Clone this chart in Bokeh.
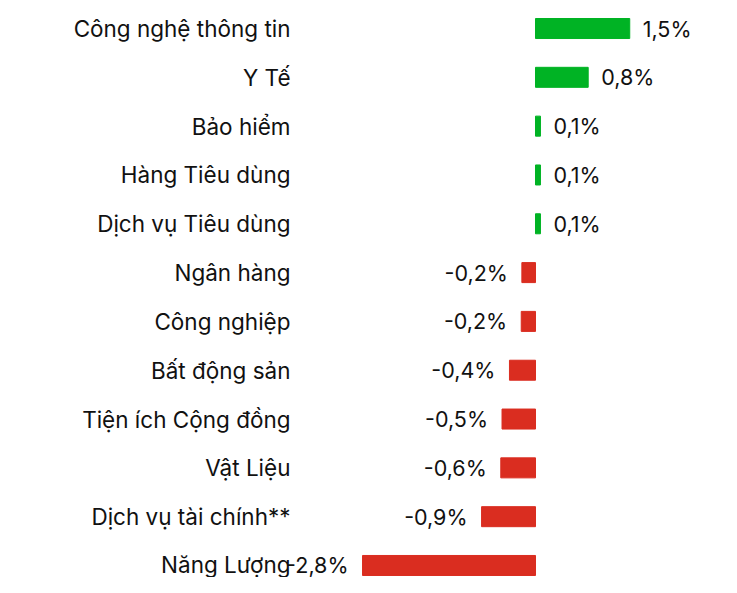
from bokeh.plotting import figure
from bokeh.models import ColumnDataSource, Range1d, FixedTicker, LabelSet
from bokeh.core.properties import value
from bokeh.embed import file_html
from bokeh.resources import INLINE

categories = ["Công nghệ thông tin", "Y Tế", "Bảo hiểm", "Hàng Tiêu dùng",
              "Dịch vụ Tiêu dùng", "Ngân hàng", "Công nghiệp", "Bất động sản",
              "Tiện ích Cộng đồng", "Vật Liệu", "Dịch vụ tài chính**", "Năng Lượng"]
values = [1.52, 0.85, 0.08, 0.08, 0.08, -0.22, -0.23, -0.42, -0.54, -0.56, -0.87, -2.79]
value_labels = ["1,5%", "0,8%", "0,1%", "0,1%", "0,1%", "-0,2%", "-0,2%",
                "-0,4%", "-0,5%", "-0,6%", "-0,9%", "-2,8%"]

GREEN = "#00B324"
RED = "#DA2D20"
FONT = "Inter"

idx = list(range(len(categories)))
src = ColumnDataSource(dict(
    y=idx, v=values,
    color=[GREEN if v >= 0 else RED for v in values],
))
pos = [i for i in idx if values[i] >= 0]
neg = [i for i in idx if values[i] < 0]
src_pos = ColumnDataSource(dict(y=pos, v=[values[i] for i in pos], lab=[value_labels[i] for i in pos]))
src_neg = ColumnDataSource(dict(y=neg, v=[values[i] for i in neg], lab=[value_labels[i] for i in neg]))

p = figure(width=721, height=577, output_backend="svg", toolbar_location=None,
           x_range=Range1d(-4.113, 3.0), y_range=Range1d(11.246, -0.41),
           min_border_left=280, min_border_right=0, min_border_top=8, min_border_bottom=0)

p.hbar(y="y", left=0, right="v", height=0.41, color="color", source=src)

common = dict(x="v", y="y", text="lab", text_baseline="middle", text_font=value(FONT),
              text_font_size=value("21.5px"), text_color="#111111")
p.add_layout(LabelSet(source=src_pos, x_offset=13, text_align="left", **common))
p.add_layout(LabelSet(source=src_neg, x_offset=-14, text_align="right", **common))

p.xaxis.visible = False
p.xgrid.visible = False
p.ygrid.visible = False
p.outline_line_color = None

ya = p.yaxis[0]
ya.ticker = FixedTicker(ticks=idx)
ya.major_label_overrides = {i: c for i, c in zip(idx, categories)}
ya.axis_line_color = None
ya.major_tick_line_color = None
ya.minor_tick_line_color = None
ya.major_tick_out = 0
ya.major_tick_in = 0
ya.major_label_standoff = -10
ya.major_label_text_font = FONT
ya.major_label_text_font_size = "22.5px"
ya.major_label_text_color = "#111111"

open("out.html", "w").write(file_html(p, INLINE))
